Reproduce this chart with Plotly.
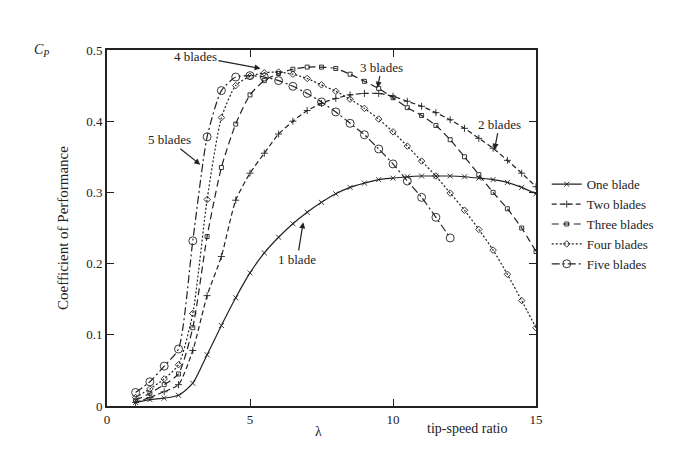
import plotly.graph_objects as go

# tip-speed ratio sample points
lam_full = [1.0, 1.5, 2.0, 2.5, 3.0, 3.5, 4.0, 4.5, 5.0, 5.5, 6.0, 6.5, 7.0, 7.5, 8.0,
            8.5, 9.0, 9.5, 10.0, 10.5, 11.0, 11.5, 12.0, 12.5, 13.0, 13.5, 14.0, 14.5, 15.0]
lam_five = lam_full[:23]

cp_one = [0.005, 0.009, 0.011, 0.015, 0.032, 0.072, 0.113, 0.152, 0.187, 0.215, 0.237, 0.256,
          0.272, 0.286, 0.298, 0.307, 0.313, 0.318, 0.320, 0.322, 0.323, 0.323, 0.323, 0.322,
          0.320, 0.318, 0.314, 0.307, 0.298]
cp_two = [0.005, 0.012, 0.020, 0.030, 0.078, 0.155, 0.210, 0.289, 0.327, 0.355, 0.382, 0.400,
          0.415, 0.425, 0.432, 0.437, 0.439, 0.439, 0.435, 0.428, 0.421, 0.412, 0.402, 0.390,
          0.376, 0.362, 0.345, 0.327, 0.308]
cp_three = [0.008, 0.018, 0.030, 0.045, 0.110, 0.238, 0.335, 0.396, 0.437, 0.457, 0.467, 0.473,
            0.476, 0.476, 0.474, 0.466, 0.456, 0.446, 0.433, 0.419, 0.408, 0.394, 0.374, 0.350,
            0.325, 0.300, 0.277, 0.250, 0.217]
cp_four = [0.012, 0.024, 0.038, 0.058, 0.130, 0.290, 0.405, 0.450, 0.463, 0.468, 0.469, 0.466,
           0.460, 0.451, 0.442, 0.431, 0.418, 0.403, 0.385, 0.365, 0.344, 0.323, 0.299, 0.275,
           0.248, 0.219, 0.185, 0.148, 0.110]
cp_five = [0.019, 0.034, 0.056, 0.080, 0.232, 0.378, 0.443, 0.462, 0.464, 0.462, 0.457, 0.449,
           0.439, 0.427, 0.413, 0.397, 0.381, 0.361, 0.340, 0.316, 0.293, 0.265, 0.236]

FONT = "Liberation Serif"
INK = "#222222"

series = [
    ("One blade", lam_full, cp_one, "solid", "x-thin", 5),
    ("Two blades", lam_full, cp_two, "5px,3px", "cross-thin", 5),
    ("Three blades", lam_full, cp_three, "7px,4px", "square-open", 4),
    ("Four blades", lam_full, cp_four, "2px,2px", "diamond-open", 5),
    ("Five blades", lam_five, cp_five, "8px,3px,2px,3px", "circle-open", 8),
]

fig = go.Figure()
for name, xs, ys, dash, sym, size in series:
    fig.add_trace(go.Scatter(
        x=xs, y=ys, mode="lines+markers", name=name,
        line=dict(color=INK, width=1.2, dash=dash, shape="spline", smoothing=0.6),
        marker=dict(symbol=sym, size=size, color=INK, line=dict(color=INK, width=0.9)),
    ))

# curve labels with arrows
labels = [
    ("4 blades", 3.09, 0.491, 5.37, 0.474),
    ("5 blades", 2.17, 0.374, 3.26, 0.339),
    ("3 blades", 9.6, 0.476, 9.46, 0.447),
    ("2 blades", 13.72, 0.396, 13.55, 0.36),
    ("1 blade", 6.65, 0.206, 6.86, 0.258),
]
for txt, tx, ty, hx, hy in labels:
    fig.add_annotation(
        x=hx, y=hy, ax=tx, ay=ty, axref="x", ayref="y", xref="x", yref="y",
        text=txt, showarrow=True, arrowhead=2, arrowsize=1, arrowwidth=1.2,
        arrowcolor=INK, standoff=0, font=dict(family=FONT, size=13, color=INK),
    )

fig.add_annotation(
    xref="paper", yref="paper", x=-0.152, y=1.0, xanchor="center", yanchor="middle",
    text="<i>C<sub>P</sub></i>", showarrow=False, font=dict(family=FONT, size=14, color=INK),
)
fig.add_annotation(
    xref="paper", yref="paper", x=0.492, y=-0.073, xanchor="center", yanchor="middle",
    text="λ", showarrow=False, font=dict(family=FONT, size=14, color=INK),
)
fig.add_annotation(
    xref="paper", yref="paper", x=0.839, y=-0.062, xanchor="center", yanchor="middle",
    text="tip-speed ratio", showarrow=False, font=dict(family=FONT, size=14, color=INK),
)

axis_common = dict(
    showline=True, linecolor=INK, linewidth=2, mirror="ticks",
    ticks="inside", ticklen=7, tickwidth=1, tickcolor=INK,
    showgrid=False, zeroline=False,
    tickfont=dict(family=FONT, size=13, color=INK),
)
fig.update_xaxes(range=[0, 15], tickvals=[0, 5, 10, 15], **axis_common)
fig.update_yaxes(
    range=[0, 0.5], tickvals=[0, 0.1, 0.2, 0.3, 0.4, 0.5],
    ticktext=["0", "0.1", "0.2", "0.3", "0.4", "0.5"],
    title=dict(text="Coefficient of Performance", font=dict(family=FONT, size=15, color=INK), standoff=14),
    **axis_common,
)

fig.update_layout(
    width=690, height=452,
    margin=dict(l=99, r=162, t=42, b=54),
    plot_bgcolor="white", paper_bgcolor="white",
    showlegend=True,
    legend=dict(
        x=1.025, y=0.665, xanchor="left", yanchor="top",
        font=dict(family=FONT, size=13, color=INK),
        tracegroupgap=0, itemwidth=30, bgcolor="rgba(0,0,0,0)",
    ),
)

fig.write_html("out.html")
